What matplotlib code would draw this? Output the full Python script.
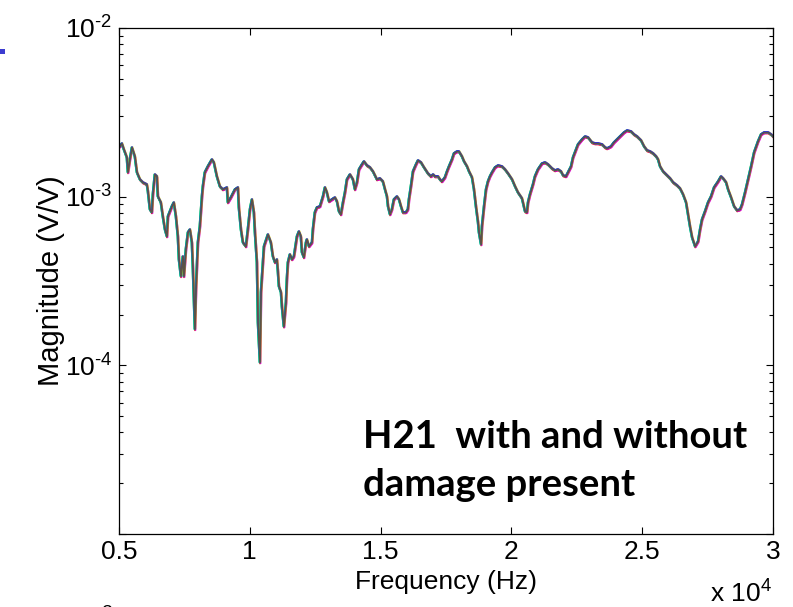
import numpy as np
import matplotlib
matplotlib.use("Agg")
import matplotlib.pyplot as plt
from matplotlib.transforms import ScaledTranslation
from matplotlib.patches import Rectangle

plt.rcParams['font.family'] = ['Liberation Sans', 'DejaVu Sans']
plt.rcParams['mathtext.fontset'] = 'custom'
plt.rcParams['mathtext.rm'] = 'Liberation Sans'
plt.rcParams['mathtext.default'] = 'regular'
plt.rcParams['axes.unicode_minus'] = False

# H21 frequency response (Hz, V/V x 1e-3)
freq_hz = [5040, 5115, 5190, 5305, 5345, 5420, 5500, 5610, 5690, 5805, 5915, 6070, 6110, 6185,
           6260, 6300, 6375, 6455, 6490, 6605, 6680, 6760, 6835, 6875, 7025, 7100, 7180, 7255,
           7295, 7370, 7445, 7485, 7560, 7640, 7715, 7790, 7830, 7905, 7945, 8020, 8095, 8175,
           8210, 8285, 8400, 8555, 8630, 8745, 8860, 8975, 9130, 9165, 9280, 9435, 9550, 9585,
           9665, 9740, 9855, 9930, 10010, 10085, 10160, 10200, 10275, 10315, 10390, 10430,
           10505, 10545, 10655, 10695, 10810, 10885, 10965, 11040, 11080, 11115, 11195, 11230,
           11305, 11385, 11420, 11460, 11535, 11615, 11690, 11805, 11880, 11955, 11995, 12070,
           12150, 12185, 12265, 12380, 12415, 12490, 12570, 12685, 12800, 12875, 12950, 13030,
           13140, 13255, 13335, 13410, 13485, 13565, 13640, 13715, 13830, 13945, 14020, 14100,
           14175, 14290, 14365, 14480, 14595, 14710, 14860, 14975, 15090, 15170, 15245, 15285,
           15360, 15435, 15510, 15625, 15705, 15780, 15855, 15970, 16045, 16085, 16160, 16240,
           16355, 16430, 16545, 16660, 16810, 16925, 17005, 17080, 17195, 17270, 17345, 17460,
           17540, 17615, 17730, 17805, 17920, 17995, 18110, 18190, 18305, 18380, 18495, 18570,
           18645, 18725, 18760, 18840, 18875, 18955, 19030, 19105, 19180, 19260, 19375, 19490,
           19640, 19755, 19870, 20025, 20140, 20250, 20405, 20520, 20595, 20635, 20710, 20825,
           20900, 21015, 21170, 21285, 21400, 21550, 21665, 21780, 21895, 21975, 22085, 22165,
           22280, 22355, 22470, 22545, 22700, 22815, 22930, 23080, 23195, 23310, 23465, 23580,
           23655, 23805, 23920, 24035, 24190, 24305, 24420, 24570, 24685, 24800, 24955, 25070,
           25185, 25300, 25415, 25530, 25605, 25680, 25795, 25950, 26065, 26180, 26330, 26445,
           26560, 26675, 26750, 26825, 26905, 27020, 27135, 27210, 27285, 27400, 27515, 27630,
           27745, 27900, 28010, 28090, 28205, 28280, 28395, 28510, 28625, 28740, 28815, 28930,
           29045, 29160, 29275, 29425, 29540, 29655, 29810, 29925, 30000]
mag_e3 = [1.979, 2.062, 1.900, 1.703, 1.388, 1.657, 1.952, 1.727, 1.388, 1.261, 1.211, 1.178,
          1.071, 0.838, 0.804, 1.028, 1.350, 1.314, 1.000, 0.921, 0.761, 0.637, 0.579, 0.761,
          0.873, 0.921, 0.761, 0.579, 0.423, 0.336, 0.441, 0.336, 0.485, 0.612, 0.637, 0.533,
          0.369, 0.163, 0.281, 0.533, 0.664, 1.000, 1.146, 1.388, 1.506, 1.657, 1.591, 1.314,
          1.146, 1.100, 1.131, 0.921, 0.986, 1.100, 1.131, 0.861, 0.637, 0.533, 0.505, 0.637,
          0.838, 0.960, 0.804, 0.612, 0.406, 0.179, 0.1036, 0.270, 0.406, 0.505, 0.571, 0.595,
          0.533, 0.441, 0.406, 0.423, 0.354, 0.293, 0.270, 0.223, 0.169, 0.235, 0.322, 0.406,
          0.453, 0.423, 0.441, 0.579, 0.620, 0.579, 0.466, 0.435, 0.533, 0.556, 0.505, 0.533,
          0.637, 0.804, 0.861, 0.873, 1.000, 1.131, 1.056, 0.934, 0.960, 0.986, 0.934, 0.815,
          0.782, 0.921, 1.056, 1.261, 1.350, 1.261, 1.100, 1.211, 1.446, 1.548, 1.613, 1.527,
          1.486, 1.407, 1.261, 1.279, 1.227, 1.100, 1.000, 0.873, 0.782, 0.838, 0.960, 1.000,
          0.960, 0.873, 0.804, 0.804, 0.838, 0.960, 1.146, 1.407, 1.548, 1.635, 1.591, 1.486,
          1.369, 1.314, 1.350, 1.314, 1.314, 1.261, 1.227, 1.296, 1.407, 1.506, 1.657, 1.799,
          1.848, 1.848, 1.727, 1.613, 1.506, 1.407, 1.296, 1.100, 0.873, 0.701, 0.612, 0.519,
          0.664, 0.873, 1.100, 1.227, 1.314, 1.388, 1.486, 1.527, 1.506, 1.446, 1.369, 1.261,
          1.146, 1.056, 0.973, 0.815, 0.804, 0.921, 1.028, 1.178, 1.314, 1.446, 1.569, 1.591,
          1.548, 1.466, 1.426, 1.446, 1.407, 1.332, 1.314, 1.388, 1.506, 1.703, 1.900, 2.034,
          2.177, 2.268, 2.237, 2.090, 2.062, 2.062, 2.034, 1.952, 1.926, 1.979, 2.090, 2.177,
          2.299, 2.395, 2.462, 2.429, 2.331, 2.268, 2.148, 1.979, 1.874, 1.848, 1.799, 1.727,
          1.657, 1.506, 1.407, 1.332, 1.279, 1.211, 1.162, 1.115, 1.028, 0.921, 0.782, 0.664,
          0.571, 0.505, 0.541, 0.637, 0.730, 0.815, 0.921, 1.000, 1.131, 1.227, 1.314, 1.279,
          1.211, 1.100, 0.986, 0.873, 0.826, 0.838, 0.897, 1.056, 1.261, 1.506, 1.823, 2.119,
          2.331, 2.395, 2.395, 2.331, 2.268]

ytick_vals = [1e-5, 1e-4, 1e-3, 1e-2]
ytick_text = ['', r'$10^{\text{-4}}$', r'$10^{\text{-3}}$', r'$10^{\text{-2}}$']
xtick_vals = [5000, 10000, 15000, 20000, 25000, 30000]
xtick_text = ['0.5', '1', '1.5', '2', '2.5', '3']

f = np.array(freq_hz)
m = np.array(mag_e3) * 1e-3

fig = plt.figure(figsize=(7.93, 6.07), dpi=100)
ax = fig.add_axes([0.150, 0.1203, 0.825, 0.8336])

# the overlaid runs (with/without damage) only peek out at the edges
runs = [('#ff0000', 0.0, -0.7), ('#e000e0', 0.5, -0.5), ('#00a000', -0.5, 0.4),
        ('#00c0c0', -0.5, 0.0), ('#c0c000', 0.4, 0.5), ('#2020ff', 0.0, 0.6)]
for col, dx, dy in runs:
    tr = ax.transData + ScaledTranslation(dx / 72, dy / 72, fig.dpi_scale_trans)
    ax.plot(f, m, color=col, lw=1.0, transform=tr)
ax.plot(f, m, color='#5b5346', lw=1.15)

ax.set_yscale('log')
ax.set_xlim(5000, 30000)
ax.set_ylim(1e-5, 1e-2)
ax.set_yticks(ytick_vals)
ax.set_yticklabels(ytick_text)
ax.set_xticks(xtick_vals)
ax.set_xticklabels(xtick_text)
ax.tick_params(which='both', direction='in', top=True, right=True, labelsize=19)
ax.tick_params(which='major', length=5, width=0.8)
ax.tick_params(which='minor', length=3, width=0.8)
ax.tick_params(axis='y', which='minor', labelleft=False)
ax.tick_params(axis='x', pad=4)
ax.tick_params(axis='y', pad=5)
for s in ax.spines.values():
    s.set_linewidth(0.9)

ax.set_xlabel('Frequency (Hz)', fontsize=19, labelpad=5)
ax.set_ylabel('Magnitude (V/V)', fontsize=21, labelpad=0)

fig.text(0.895, 0.008, r'x $10^{4}$', fontsize=19, ha='left', va='baseline')

ax.text(0.373, 0.145, 'H21  with and without\ndamage present', transform=ax.transAxes,
        fontsize=27.5, fontweight='bold', family=['Lato', 'DejaVu Sans'],
        ha='left', va='center', linespacing=1.5)

# leftovers from the slide crop
fig.patches.append(Rectangle((0.0, 0.911), 0.006, 0.009, transform=fig.transFigure,
                             color='#3c3cd0', lw=0))
fig.text(0.128, 0.004, '2', fontsize=14, va='top', ha='left')

fig.savefig('out.png', dpi=100)
